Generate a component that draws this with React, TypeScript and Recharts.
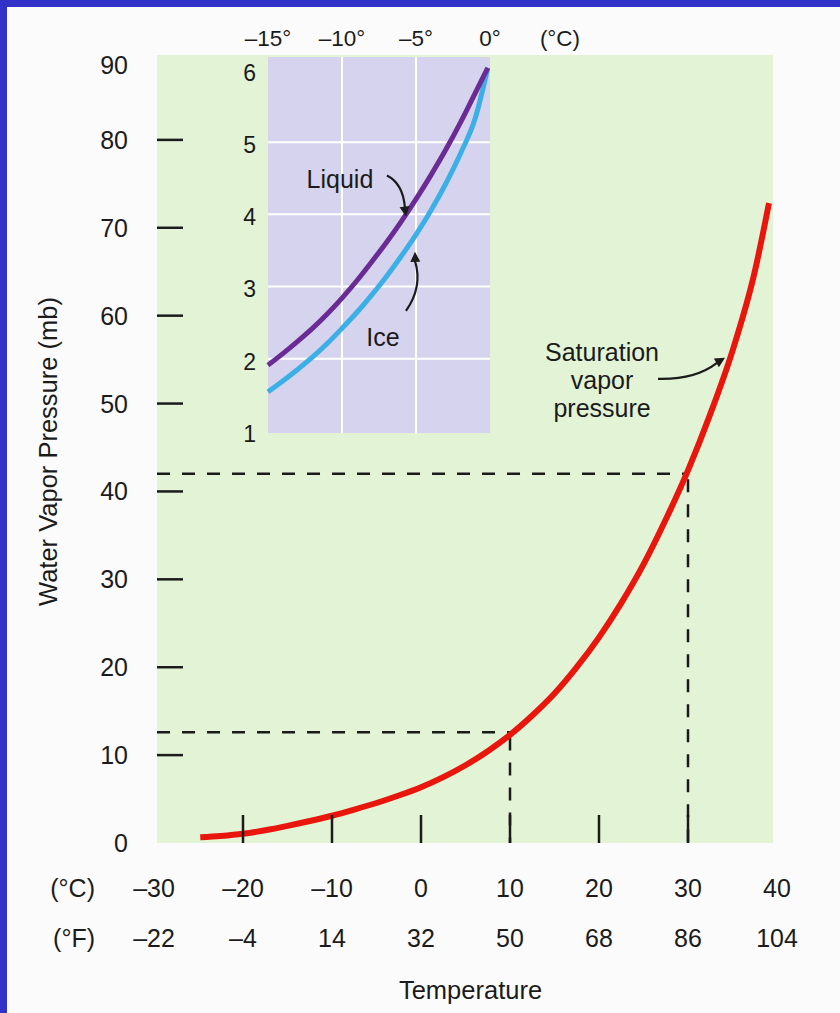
import { LineChart, Line, XAxis, YAxis, CartesianGrid, ReferenceArea, ReferenceLine, ReferenceDot } from "recharts";

// main curve: saturation vapor pressure (mb) vs temperature (°C)
const temps = [-24.8, -22.5, -20, -17.5, -15, -12.5, -10, -7.5, -5, -2.5, 0, 2.5, 5, 7.5, 10, 12.5, 15, 17.5, 20, 22.5, 25, 27.5, 30, 32.5, 35, 37.5, 39.1];
const pressures = [0.65, 0.8, 1.05, 1.45, 1.95, 2.5, 3.1, 3.8, 4.55, 5.4, 6.35, 7.5, 8.85, 10.45, 12.3, 14.5, 17.0, 20.0, 23.4, 27.3, 31.7, 36.8, 42.4, 48.8, 56.0, 65.0, 72.8];

const tempTicks = [-30, -20, -10, 0, 10, 20, 30, 40];
const celsiusLabels = ["–30", "–20", "–10", "0", "10", "20", "30", "40"];
const fahrenheitLabels = ["–22", "–4", "14", "32", "50", "68", "86", "104"];
const pressureTicks = [0, 10, 20, 30, 40, 50, 60, 70, 80, 90];

// dashed read-off guides
const guideTemps = [10, 30];
const guidePressures = [12.6, 42.0];

// inset: below freezing, over liquid water and over ice
const insetTemps = [-15, -14, -13, -12, -11, -10, -9, -8, -7, -6, -5, -4, -3, -2, -1, -0.15];
const liquidValues = [1.91, 2.07, 2.24, 2.42, 2.62, 2.84, 3.08, 3.34, 3.61, 3.9, 4.21, 4.54, 4.89, 5.27, 5.68, 6.03];
const iceValues = [1.54, 1.69, 1.85, 2.02, 2.21, 2.42, 2.64, 2.88, 3.14, 3.42, 3.72, 4.05, 4.42, 4.84, 5.33, 6.03];
const insetTempTicks = [-15, -10, -5, 0];
const insetTempLabels = ["–15°", "–10°", "–5°", "0°"];
const insetPressureTicks = [1, 2, 3, 4, 5, 6];
const insetGridTemps = [-10, -5];
const insetGridPressures = [2, 3, 4, 5];

const mainData = temps.map((t, i) => ({ t, p: pressures[i] }));
const insetData = insetTemps.map((t, i) => ({ t, liquid: liquidValues[i], ice: iceValues[i] }));

const FONT = '"Liberation Sans", Arial, Helvetica, sans-serif';
const INK = "#1b1b1b";

function MainYTick(props: any) {
  const { x, y, payload } = props;
  const v = payload.value;
  return (
    <g>
      <text x={x} y={y} dy={v === 90 ? 13 : 0} textAnchor="end" dominantBaseline="central" fontSize={25} fill={INK} fontFamily={FONT}>
        {v}
      </text>
      {v > 0 && v < 90 && <line x1={x + 29} x2={x + 55} y1={y} y2={y} stroke={INK} strokeWidth={2.5} />}
    </g>
  );
}

function MainXTick(props: any) {
  const { x, y, payload } = props;
  const i = tempTicks.indexOf(payload.value);
  const v = payload.value;
  return (
    <g fontFamily={FONT} fontSize={25} fill={INK}>
      {v > -30 && v < 40 && <line x1={x} x2={x} y1={y - 28} y2={y} stroke={INK} strokeWidth={2.5} />}
      <text x={x} y={y + 45} textAnchor="middle" dominantBaseline="central">{celsiusLabels[i]}</text>
      <text x={x} y={y + 95} textAnchor="middle" dominantBaseline="central">{fahrenheitLabels[i]}</text>
      {i === 0 && (
        <>
          <text x={x - 59} y={y + 45} textAnchor="end" dominantBaseline="central">(°C)</text>
          <text x={x - 59} y={y + 95} textAnchor="end" dominantBaseline="central">(°F)</text>
        </>
      )}
    </g>
  );
}

function YLabel(props: any) {
  const vb = props.viewBox ?? { x: 34, y: 52, width: 120, height: 791 };
  const cx = vb.x + 14;
  const cy = vb.y + vb.height / 2 + 4;
  return (
    <text x={cx} y={cy} transform={`rotate(-90 ${cx} ${cy})`} textAnchor="middle" dominantBaseline="central" fontSize={25.5} fill={INK} fontFamily={FONT}>
      Water Vapor Pressure (mb)
    </text>
  );
}

function XLabel(props: any) {
  const vb = props.viewBox ?? { x: 154, y: 843, width: 623, height: 160 };
  return (
    <text x={vb.x + vb.width / 2 + 5} y={vb.y + 147} textAnchor="middle" dominantBaseline="central" fontSize={25.5} fill={INK} fontFamily={FONT}>
      Temperature
    </text>
  );
}

function InsetXTick(props: any) {
  const { x, y, payload } = props;
  const i = insetTempTicks.indexOf(payload.value);
  return (
    <g fontFamily={FONT} fontSize={22.5} fill={INK}>
      <text x={x} y={y - 19} textAnchor="middle" dominantBaseline="central">{insetTempLabels[i]}</text>
      {i === insetTempTicks.length - 1 && (
        <text x={x + 70} y={y - 19} textAnchor="middle" dominantBaseline="central">(°C)</text>
      )}
    </g>
  );
}

function InsetYTick(props: any) {
  const { x, y, payload } = props;
  return (
    <text x={x} y={y + 3} textAnchor="end" dominantBaseline="central" fontSize={23} fill={INK} fontFamily={FONT}>
      {payload.value}
    </text>
  );
}

function arrowHead(angle: number) {
  return <polygon points="0,0 -10,-5 -10,5" transform={`rotate(${angle})`} fill={INK} />;
}

function LiquidNote(props: any) {
  const { cx, cy } = props;
  return (
    <g transform={`translate(${cx},${cy})`} fontFamily={FONT} fontSize={25} fill={INK}>
      <text x={-66} y={-37} textAnchor="middle" dominantBaseline="central">Liquid</text>
      <path d="M -19 -41 Q -3 -33 -1 -9" fill="none" stroke={INK} strokeWidth={2.2} />
      {arrowHead(82)}
    </g>
  );
}

function IceNote(props: any) {
  const { cx, cy } = props;
  return (
    <g transform={`translate(${cx},${cy})`} fontFamily={FONT} fontSize={25} fill={INK}>
      <text x={-32} y={85} textAnchor="middle" dominantBaseline="central">Ice</text>
      <path d="M -9 59 Q 8 35 0 9" fill="none" stroke={INK} strokeWidth={2.2} />
      {arrowHead(-92)}
    </g>
  );
}

function SaturationNote(props: any) {
  const { cx, cy } = props;
  return (
    <g transform={`translate(${cx},${cy})`} fontFamily={FONT} fontSize={25} fill={INK}>
      <text x={-123} y={-6} textAnchor="middle" dominantBaseline="central">Saturation</text>
      <text x={-123} y={22} textAnchor="middle" dominantBaseline="central">vapor</text>
      <text x={-123} y={50} textAnchor="middle" dominantBaseline="central">pressure</text>
      <path d="M -67 21 Q -30 22 -8 5" fill="none" stroke={INK} strokeWidth={2.2} />
      {arrowHead(-30)}
    </g>
  );
}

export default function App() {
  return (
    <div style={{ position: "absolute", top: 0, left: 0, width: 840, height: 1013, background: "#3232c8", overflow: "hidden" }}>
      <div style={{ position: "absolute", top: 7, left: 7, width: 833, height: 1006, background: "#fbfbfb" }} />
      <div style={{ position: "absolute", top: 0, left: 0 }}>
        <LineChart width={840} height={1013} data={mainData} margin={{ top: 52, right: 63, bottom: 10, left: 34 }}>
          <ReferenceArea x1={-29.66} x2={39.55} y1={0} y2={89.66} fill="#e3f3d6" fillOpacity={1} stroke="none" />
          <XAxis
            type="number"
            dataKey="t"
            domain={[-30, 40]}
            ticks={tempTicks}
            height={160}
            axisLine={false}
            tickLine={false}
            tickSize={0}
            tickMargin={0}
            tick={<MainXTick />}
            label={<XLabel />}
            interval={0}
          />
          <YAxis
            type="number"
            domain={[0, 90]}
            ticks={pressureTicks}
            width={120}
            axisLine={false}
            tickLine={false}
            tickSize={0}
            tickMargin={26}
            tick={<MainYTick />}
            label={<YLabel />}
            interval={0}
          />
          {guideTemps.map((t, i) => (
            <ReferenceLine
              key={`h${t}`}
              segment={[{ x: -29.66, y: guidePressures[i] }, { x: t, y: guidePressures[i] }]}
              stroke={INK}
              strokeWidth={2.5}
              strokeDasharray="13 12"
            />
          ))}
          {guideTemps.map((t, i) => (
            <ReferenceLine
              key={`v${t}`}
              segment={[{ x: t, y: guidePressures[i] - 0.6 }, { x: t, y: 0 }]}
              stroke={INK}
              strokeWidth={2.5}
              strokeDasharray="13 12"
            />
          ))}
          <Line type="monotone" dataKey="p" stroke="#e8160c" strokeWidth={6} dot={false} isAnimationActive={false} />
          <ReferenceDot x={34.16} y={55.2} r={0} shape={SaturationNote} />
        </LineChart>
      </div>
      <div style={{ position: "absolute", top: 0, left: 0 }}>
        <LineChart width={840} height={1013} data={insetData} margin={{ top: 17, right: 350, bottom: 580, left: 228 }}>
          <CartesianGrid
            fill="#d5d3ee"
            fillOpacity={1}
            stroke="#ffffff"
            strokeWidth={2}
            horizontalValues={insetGridPressures}
            verticalValues={insetGridTemps}
          />
          <XAxis
            type="number"
            dataKey="t"
            orientation="top"
            domain={[-15, 0]}
            ticks={insetTempTicks}
            height={40}
            axisLine={false}
            tickLine={false}
            tickSize={0}
            tickMargin={0}
            tick={<InsetXTick />}
            interval={0}
          />
          <YAxis
            type="number"
            domain={[0.97, 6.18]}
            allowDataOverflow
            ticks={insetPressureTicks}
            width={40}
            axisLine={false}
            tickLine={false}
            tickSize={0}
            tickMargin={12}
            tick={<InsetYTick />}
            interval={0}
          />
          <Line type="monotone" dataKey="ice" stroke="#3cb0e6" strokeWidth={5} dot={false} isAnimationActive={false} />
          <Line type="monotone" dataKey="liquid" stroke="#6a2c94" strokeWidth={5} dot={false} isAnimationActive={false} />
          <ReferenceDot x={-5.68} y={3.97} r={0} shape={LiquidNote} />
          <ReferenceDot x={-5.07} y={3.48} r={0} shape={IceNote} />
        </LineChart>
      </div>
    </div>
  );
}
